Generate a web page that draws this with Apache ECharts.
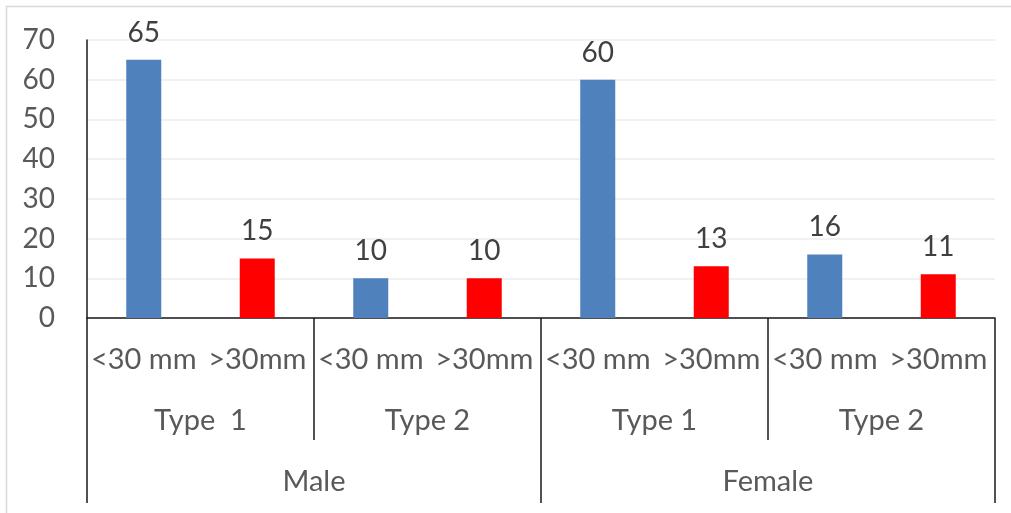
<!DOCTYPE html>
<html>
<head>
<meta charset="utf-8">
<script src="https://cdn.jsdelivr.net/npm/echarts@6/dist/echarts.min.js"></script>
<style>
  html, body { margin: 0; padding: 0; background: #fff; }
  #chart { width: 1011px; height: 513px; }
</style>
</head>
<body>
<div id="chart"></div>
<script>
// data
var sizeLabels = ['<30 mm', '>30mm', '<30 mm', '>30mm', '<30 mm', '>30mm', '<30 mm', '>30mm'];
var typeLabels = ['Type  1', 'Type 2', 'Type 1', 'Type 2'];
var sexLabels = ['Male', 'Female'];
var counts = [65, 15, 10, 10, 60, 13, 16, 11];
var yTicks = { min: 0, max: 70, step: 10 };

var txt = '#595959';
var font = 'Lato';

var chart = echarts.init(document.getElementById('chart'));
var option = {
    animation: false,
    grid: { left: 87, right: 16, top: 40, bottom: 195 },
    graphic: [{
        type: 'rect',
        shape: { x: 6.5, y: 6.5, width: 1100, height: 600 },
        style: { fill: 'none', stroke: '#d9d9d9', lineWidth: 1.5 },
        silent: true
    }],
    xAxis: [
        {
            type: 'category',
            data: sizeLabels,
            axisLine: { lineStyle: { color: '#1a1a1a', width: 1.5 } },
            axisTick: { show: false },
            axisLabel: { interval: 0, color: txt, fontFamily: font, fontSize: 29, margin: 42, verticalAlign: 'middle' }
        },
        {
            type: 'category',
            data: typeLabels,
            position: 'bottom',
            axisLine: { show: false },
            axisTick: { show: true, interval: 0, length: 122, lineStyle: { color: '#1a1a1a', width: 1.5 } },
            axisLabel: { interval: 0, color: txt, fontFamily: font, fontSize: 29, margin: 103, verticalAlign: 'middle' }
        },
        {
            type: 'category',
            data: sexLabels,
            position: 'bottom',
            axisLine: { show: false },
            axisTick: { show: true, interval: 0, length: 185, lineStyle: { color: '#1a1a1a', width: 1.5 } },
            axisLabel: { interval: 0, color: txt, fontFamily: font, fontSize: 29, margin: 164, verticalAlign: 'middle' }
        }
    ],
    yAxis: {
        type: 'value',
        min: yTicks.min,
        max: yTicks.max,
        interval: yTicks.step,
        axisLine: { show: true, lineStyle: { color: '#1a1a1a', width: 1.5 } },
        axisTick: { show: false },
        splitLine: { lineStyle: { color: '#ececec', width: 1.5 } },
        axisLabel: { color: txt, fontFamily: font, fontSize: 28, margin: 32 }
    },
    series: [{
        type: 'bar',
        data: counts,
        barWidth: 35,
        itemStyle: {
            color: function (p) { return p.dataIndex % 2 ? '#FF0000' : '#4F81BD'; }
        },
        label: {
            show: true,
            position: 'top',
            distance: 13,
            color: '#404040',
            fontFamily: font,
            fontSize: 28
        }
    }]
};
chart.setOption(option);
</script>
</body>
</html>
